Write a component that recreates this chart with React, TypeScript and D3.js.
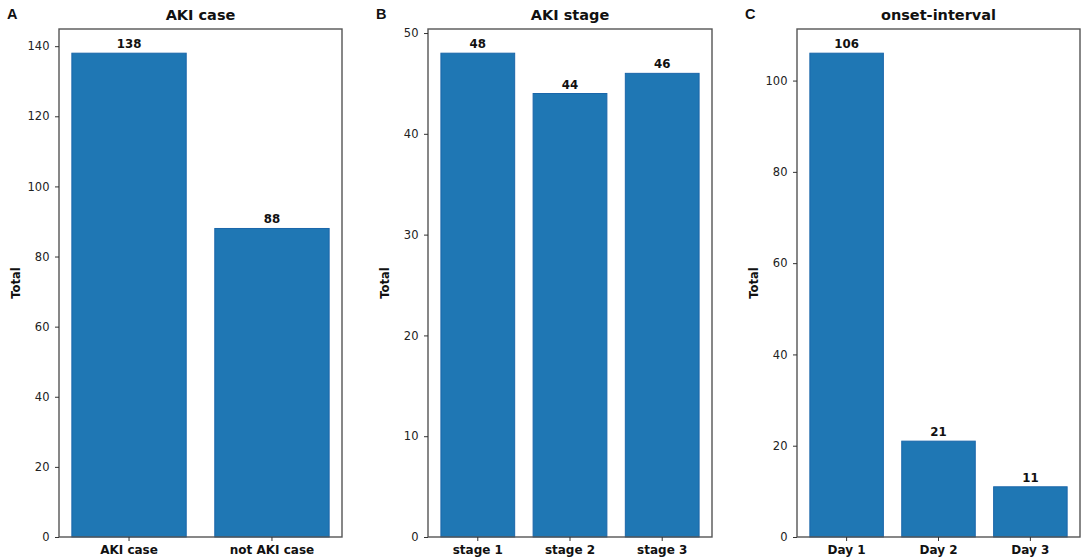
import React, { FC, useEffect, useRef } from "react"
import { axisBottom, axisLeft, max, range, scaleBand, scaleLinear, select } from "d3"

// panel A
const caseLabels = ["AKI case", "not AKI case"]
const caseTotals = [138, 88]
// panel B
const stageLabels = ["stage 1", "stage 2", "stage 3"]
const stageTotals = [48, 44, 46]
// panel C
const onsetLabels = ["Day 1", "Day 2", "Day 3"]
const onsetTotals = [106, 21, 11]

const panelLetters = ["A", "B", "C"]
const panelTitles = ["AKI case", "AKI stage", "onset-interval"]
const tickSteps = [20, 10, 20]

const W = 1084
const H = 560
const FONT = "DejaVu Sans, sans-serif"

const panels = [
  { labels: caseLabels, values: caseTotals, left: 59, right: 342 },
  { labels: stageLabels, values: stageTotals, left: 428, right: 712 },
  { labels: onsetLabels, values: onsetTotals, left: 797, right: 1080 },
]
const top = 29
const bottom = 537

const App: FC = () => {
  const ref = useRef<SVGSVGElement>(null)

  useEffect(() => {
    const svg = select(ref.current)
    svg.selectAll("*").remove()

    panels.forEach((p, i) => {
      const n = p.labels.length
      // matplotlib-like margins: bars of width 0.8, 5% padding each side
      const lo = -0.4 - 0.05 * (n - 1 + 0.8)
      const hi = n - 1 + 0.4 + 0.05 * (n - 1 + 0.8)
      const x = scaleLinear().domain([lo, hi]).range([p.left, p.right])
      const yMax = (max(p.values) ?? 0) * 1.05
      const y = scaleLinear().domain([0, yMax]).range([bottom, top])

      const g = svg.append("g")

      // bars
      g.selectAll("rect")
        .data(p.values)
        .join("rect")
        .attr("x", (_, j) => x(j - 0.4))
        .attr("y", (d) => y(d))
        .attr("width", x(0.8) - x(0))
        .attr("height", (d) => bottom - y(d))
        .attr("fill", "#1f77b4")
        .attr("stroke", "#1a66aa")
        .attr("stroke-width", 1)

      // value labels
      g.selectAll("text.val")
        .data(p.values)
        .join("text")
        .attr("class", "val")
        .attr("x", (_, j) => x(j))
        .attr("y", (d) => y(d) - 5)
        .attr("text-anchor", "middle")
        .attr("font-family", FONT)
        .attr("font-weight", "bold")
        .attr("font-size", 11.8)
        .attr("fill", "#111")
        .text((d) => String(d))

      // frame
      g.append("rect")
        .attr("x", p.left)
        .attr("y", top)
        .attr("width", p.right - p.left)
        .attr("height", bottom - top)
        .attr("fill", "none")
        .attr("stroke", "#555")
        .attr("stroke-width", 1.4)

      // y axis
      const ticks = range(0, yMax, tickSteps[i])
      const yAxis = g
        .append("g")
        .attr("transform", `translate(${p.left},0)`)
        .call(axisLeft(y).tickValues(ticks).tickSize(4).tickPadding(5.5))
      yAxis.select(".domain").remove()
      yAxis.selectAll("line").attr("stroke", "#333")
      yAxis
        .selectAll("text")
        .attr("font-family", FONT)
        .attr("font-size", 11.5)
        .attr("fill", "#222")

      // x axis
      const xb = scaleBand<string>().domain(p.labels).range([x(-0.5), x(n - 0.5)])
      const xAxis = g
        .append("g")
        .attr("transform", `translate(0,${bottom})`)
        .call(axisBottom(xb).tickSize(4).tickPadding(4.5))
      xAxis.select(".domain").remove()
      xAxis.selectAll("line").attr("stroke", "#333")
      xAxis
        .selectAll("text")
        .attr("font-family", FONT)
        .attr("font-size", 12)
        .attr("font-weight", "bold")
        .attr("fill", "#111")

      // y label
      g.append("text")
        .attr("transform", `translate(${p.left - 39},${(top + bottom) / 2}) rotate(-90)`)
        .attr("text-anchor", "middle")
        .attr("font-family", FONT)
        .attr("font-size", 11.5)
        .attr("font-weight", "bold")
        .attr("fill", "#111")
        .text("Total")

      // title
      g.append("text")
        .attr("x", (p.left + p.right) / 2)
        .attr("y", top - 9)
        .attr("text-anchor", "middle")
        .attr("font-family", FONT)
        .attr("font-size", 14.5)
        .attr("font-weight", "bold")
        .attr("fill", "#111")
        .text(panelTitles[i])

      // panel letter
      g.append("text")
        .attr("x", p.left - 52)
        .attr("y", 19)
        .attr("font-family", "Liberation Sans, Arial, sans-serif")
        .attr("font-size", 14.5)
        .attr("font-weight", "bold")
        .attr("fill", "#111")
        .text(panelLetters[i])
    })
  }, [])

  return (
    <svg
      ref={ref}
      width={W}
      height={H}
      style={{ position: "absolute", left: 0, top: 0, background: "#fff" }}
    />
  )
}

export default App
